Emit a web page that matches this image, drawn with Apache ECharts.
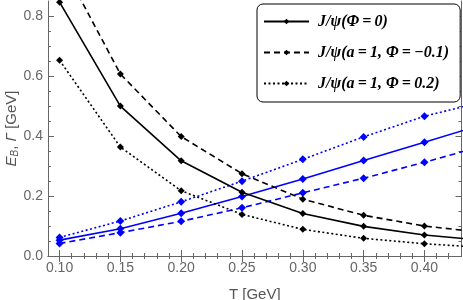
<!DOCTYPE html>
<html>
<head>
<meta charset="utf-8">
<script src="https://cdn.jsdelivr.net/npm/echarts@6/dist/echarts.min.js"></script>
<style>html,body{margin:0;padding:0;background:#fff}#c{width:463px;height:300px}</style>
</head>
<body>
<div id="c"></div>
<script>
// Temperatures (GeV)
const T = [0.10, 0.15, 0.20, 0.25, 0.30, 0.35, 0.40, 0.45];
// Binding energies E_B (black)
const ebPhi0 = [0.848, 0.501, 0.318, 0.213, 0.142, 0.099, 0.070, 0.052];
const ebA1PhiM01 = [0.99, 0.608, 0.399, 0.275, 0.190, 0.136, 0.100, 0.078];
const ebA1Phi02 = [0.654, 0.364, 0.218, 0.139, 0.089, 0.059, 0.041, 0.028];
// Thermal widths Gamma (blue)
const gPhi0 = [0.053, 0.091, 0.143, 0.199, 0.257, 0.319, 0.380, 0.442];
const gA1PhiM01 = [0.042, 0.078, 0.116, 0.161, 0.211, 0.260, 0.313, 0.370];
const gA1Phi02 = [0.062, 0.117, 0.181, 0.250, 0.323, 0.398, 0.467, 0.517];
// Ticks
const xMajor = [0.10, 0.15, 0.20, 0.25, 0.30, 0.35, 0.40];
const xMinor = [0.10,0.11,0.12,0.13,0.14,0.15,0.16,0.17,0.18,0.19,0.20,0.21,0.22,0.23,0.24,0.25,0.26,0.27,0.28,0.29,0.30,0.31,0.32,0.33,0.34,0.35,0.36,0.37,0.38,0.39,0.40,0.41,0.42];
const yMajor = [0.0, 0.2, 0.4, 0.6, 0.8];
const yMinor = [0.05, 0.10, 0.15, 0.25, 0.30, 0.35, 0.45, 0.50, 0.55, 0.65, 0.70, 0.75];
const legendNames = ['J/ψ(Φ\u2009=\u20090)', 'J/ψ(a\u2009=\u20091, Φ\u2009=\u2009\u22120.1)', 'J/ψ(a\u2009=\u20091, Φ\u2009=\u20090.2)'];
const blueNames = ['Γ Φ=0', 'Γ a=1, Φ=-0.1', 'Γ a=1, Φ=0.2'];

const FRAME = '#666';
const xRange = {min: 0.0905, max: 0.4305};
const yRange = {min: 0, max: 0.852};

function xAx(pos, ticks, len, labels, line) {
  return Object.assign({
    type: 'value', position: pos, gridIndex: 0,
    axisLine: {show: line, lineStyle: {color: FRAME, width: 1}},
    axisTick: {show: true, inside: true, length: len, customValues: ticks, lineStyle: {color: FRAME, width: 1}},
    axisLabel: labels ? {show: true, customValues: xMajor, formatter: v => v.toFixed(2), color: '#666', fontSize: 14, fontFamily: 'Liberation Sans', margin: 5} : {show: false},
    splitLine: {show: false}
  }, xRange);
}
function yAx(pos, ticks, len, labels, line) {
  return Object.assign({
    type: 'value', position: pos, gridIndex: 0,
    axisLine: {show: line, lineStyle: {color: FRAME, width: 1}},
    axisTick: {show: true, inside: true, length: len, customValues: ticks, lineStyle: {color: FRAME, width: 1}},
    axisLabel: labels ? {show: true, customValues: yMajor, formatter: v => v.toFixed(1), color: '#666', fontSize: 14, fontFamily: 'Liberation Sans', margin: 5} : {show: false},
    splitLine: {show: false}
  }, yRange);
}

const xAxes = [
  xAx('bottom', xMajor, 6, true, true),
  xAx('bottom', xMinor, 3, false, false),
  xAx('top', xMajor, 6, false, true),
  xAx('top', xMinor, 3, false, false)
];
xAxes[0].name = 'T [GeV]';
xAxes[0].nameLocation = 'middle';
xAxes[0].nameGap = 31;
xAxes[0].nameMoveOverlap = false;
xAxes[0].nameTextStyle = {color: '#555', fontSize: 15, fontFamily: 'Liberation Sans'};

const yAxes = [
  yAx('left', yMajor, 6, true, true),
  yAx('left', yMinor, 3, false, false),
  yAx('right', yMajor, 6, false, true),
  yAx('right', yMinor, 3, false, false)
];
yAxes[0].name = '{i|E}{s|B}{n|, }{i|Γ}{n| [GeV]}';
yAxes[0].nameLocation = 'middle';
yAxes[0].nameGap = 28;
yAxes[0].nameMoveOverlap = false;
yAxes[0].nameTextStyle = {
  color: '#555', fontSize: 15, fontFamily: 'Liberation Sans',
  rich: {
    i: {fontStyle: 'italic', fontSize: 15, color: '#555', fontFamily: 'Liberation Sans'},
    s: {fontStyle: 'italic', fontSize: 10, color: '#555', fontFamily: 'Liberation Sans', padding: [6, 0, 0, 0]},
    n: {fontSize: 15, color: '#555', fontFamily: 'Liberation Sans'}
  }
};

function mkSeries(name, data, color, type, size, width) {
  return {
    name: name, type: 'line', xAxisIndex: 0, yAxisIndex: 0,
    data: T.map((t, i) => [t, data[i]]),
    symbol: 'diamond', symbolSize: size, showSymbol: true,
    itemStyle: {color: color},
    lineStyle: {color: color, width: width, type: type},
    clip: true, animation: false, z: 3
  };
}
const DASH = [6, 4];
const DOT = [2, 2.5];

const chart = echarts.init(document.getElementById('c'), null, {renderer: 'canvas'});
chart.setOption({
  backgroundColor: '#fff',
  animation: false,
  grid: {left: 48, right: 1.5, top: 1, bottom: 44, containLabel: false, outerBoundsMode: 'none'},
  xAxis: xAxes,
  yAxis: yAxes,
  legend: {
    data: legendNames,
    orient: 'vertical',
    left: 257, top: 4,
    padding: [9, 11, 10, 6],
    itemGap: 14,
    itemWidth: 45, itemHeight: 7,
    backgroundColor: '#fff',
    borderColor: '#000', borderWidth: 1, borderRadius: 6,
    textStyle: {fontFamily: 'Liberation Serif', fontStyle: 'italic', fontWeight: 'bold', fontSize: 16, lineHeight: 17, color: '#000', padding: [0, 0, 0, 4]},
    selectedMode: false
  },
  series: [
    mkSeries(blueNames[0], gPhi0, '#0000ff', 'solid', 8, 1.6),
    mkSeries(blueNames[1], gA1PhiM01, '#0000ff', DASH, 8, 1.6),
    mkSeries(blueNames[2], gA1Phi02, '#0000ff', DOT, 8, 1.6),
    mkSeries(legendNames[0], ebPhi0, '#000', 'solid', 7, 1.6),
    mkSeries(legendNames[1], ebA1PhiM01, '#000', DASH, 7, 1.6),
    mkSeries(legendNames[2], ebA1Phi02, '#000', DOT, 7, 1.6)
  ]
});
</script>
</body>
</html>
